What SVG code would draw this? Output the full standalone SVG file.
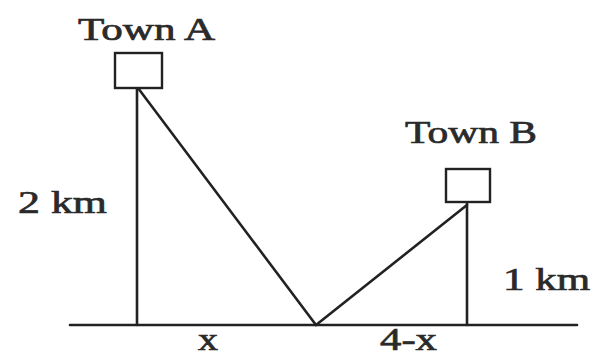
<svg xmlns="http://www.w3.org/2000/svg" width="595" height="355" viewBox="0 0 595 355">
<style>
.ln{stroke:#222;stroke-width:2.6;fill:none;stroke-linecap:round}
.box{stroke:#222;stroke-width:2.4;fill:#fff}
text{font-family:"Liberation Serif","Times New Roman",serif;font-size:32px;fill:#2a2a2a;stroke:#2a2a2a;stroke-width:0.7}
</style>
<rect width="595" height="355" fill="#fff"/>
<g id="connectors">
<line class="ln" x1="70" y1="325" x2="577" y2="325"/>
<line class="ln" x1="137" y1="88" x2="137" y2="325"/>
<line class="ln" x1="138" y1="88" x2="316" y2="325"/>
<line class="ln" x1="316" y1="325" x2="467" y2="205"/>
<line class="ln" x1="467" y1="202" x2="467" y2="325"/>
</g>
<g id="townA">
<rect class="box" x="115" y="53" width="47" height="35"/>
<text x="78" y="40" textLength="137" lengthAdjust="spacingAndGlyphs">Town A</text>
</g>
<g id="townB">
<rect class="box" x="446" y="169" width="44" height="33"/>
<text x="405" y="143" textLength="132" lengthAdjust="spacingAndGlyphs">Town B</text>
</g>
<g id="labels">
<text x="18" y="213" textLength="89" lengthAdjust="spacingAndGlyphs">2 km</text>
<text x="503" y="290" textLength="87" lengthAdjust="spacingAndGlyphs">1 km</text>
<text x="198" y="350" textLength="20" lengthAdjust="spacingAndGlyphs">x</text>
<text x="380" y="350" textLength="57" lengthAdjust="spacingAndGlyphs">4-x</text>
</g>
</svg>
